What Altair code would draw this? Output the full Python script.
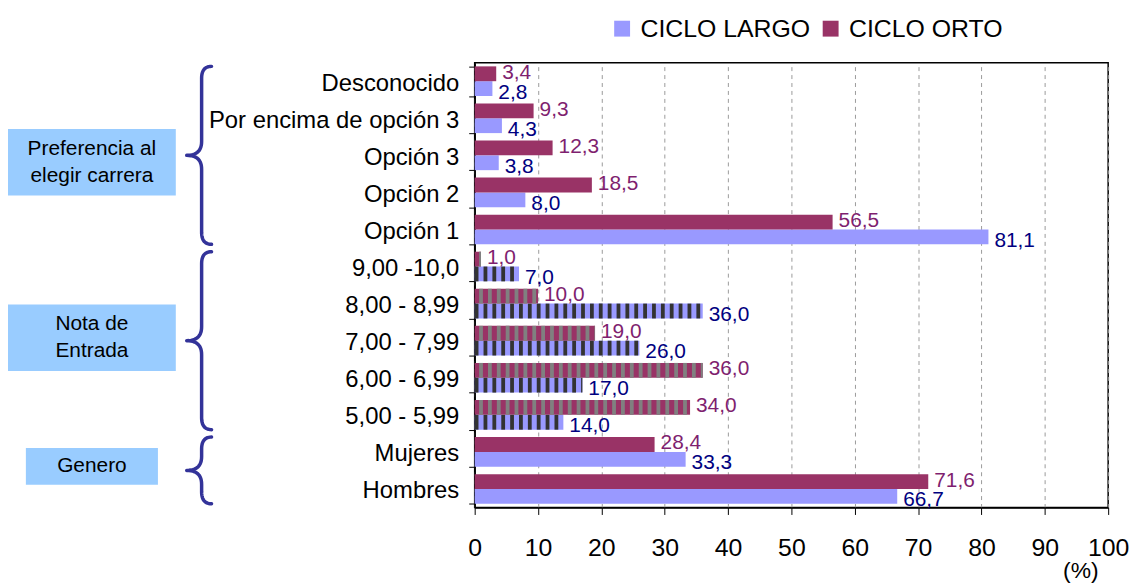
import altair as alt
import pandas as pd
import numpy as np

FONT = "Liberation Sans"

# ---------------- data ----------------
categories = ["Desconocido", "Por encima de opción 3", "Opción 3", "Opción 2", "Opción 1",
              "9,00 -10,0", "8,00 - 8,99", "7,00 - 7,99", "6,00 - 6,99", "5,00 - 5,99",
              "Mujeres", "Hombres"]
ciclo_largo = [2.8, 4.3, 3.8, 8.0, 81.1, 7.0, 36.0, 26.0, 17.0, 14.0, 33.3, 66.7]
ciclo_orto = [3.4, 9.3, 12.3, 18.5, 56.5, 1.0, 10.0, 19.0, 36.0, 34.0, 28.4, 71.6]
striped_rows = ["9,00 -10,0", "8,00 - 8,99", "7,00 - 7,99", "6,00 - 6,99", "5,00 - 5,99"]
series_names = ["CICLO LARGO", "CICLO ORTO"]
x_ticks = [0, 10, 20, 30, 40, 50, 60, 70, 80, 90, 100]

group_labels = ["Preferencia al\nelegir carrera", "Nota de\nEntrada", "Genero"]
group_first = [0, 5, 10]
group_last = [4, 9, 11]

# ---------------- layout / style constants ----------------
W, H = 638, 448
N = len(categories)
STEP = H / N
C_LARGO, C_ORTO = "#9999FF", "#993366"
LBL_LARGO, LBL_ORTO = "#000080", "#7F1F6F"
STRIPE_PERIOD, STRIPE_W = 1.4, 0.6
LINE_H = 27

rows = []
for c, vl, vo in zip(categories, ciclo_largo, ciclo_orto):
    rows.append({"category": c, "series": "CICLO LARGO", "value": vl})
    rows.append({"category": c, "series": "CICLO ORTO", "value": vo})
df = pd.DataFrame(rows)
df["label"] = df["value"].map(lambda v: f"{v:.1f}".replace(".", ","))

def stripes(series, offset):
    out = []
    sub = df[(df.series == series) & (df.category.isin(striped_rows))]
    for _, r in sub.iterrows():
        k = 0
        while True:
            x0 = offset + k * STRIPE_PERIOD
            if x0 >= r.value:
                break
            out.append({"category": r.category, "series": series,
                        "value": x0, "x1": min(x0 + STRIPE_W, r.value)})
            k += 1
    return pd.DataFrame(out)

stripes_largo = stripes("CICLO LARGO", 0.0)
stripes_orto = stripes("CICLO ORTO", 0.7)

xscale = alt.Scale(domain=[0, 100], nice=False, zero=True)
yscale = alt.Scale(domain=categories, paddingInner=0.2, paddingOuter=0.1)
yoff = alt.YOffset("series:N", scale=alt.Scale(domain=["CICLO ORTO", "CICLO LARGO"],
                                               paddingInner=0, paddingOuter=0))

xaxis = alt.Axis(values=x_ticks, grid=True, gridDash=[4, 4], gridColor="#9A9A9A", gridWidth=1,
                 domainColor="black", domainWidth=1.5, tickColor="black", tickSize=7,
                 labelFontSize=25, labelPadding=21, labelColor="black", labelFont=FONT,
                 labelFlush=False, labelOverlap=False,
                 title="(%)", titleFontSize=23, titleFontWeight="normal", titleFont=FONT,
                 titleColor="black", titleX=610, titleY=64, titleAlign="center",
                 titleBaseline="middle")
yaxis = alt.Axis(title=None, tickBand="extent", tickSize=6, tickColor="black",
                 domainColor="black", domainWidth=1.5, labelFontSize=24, labelPadding=10,
                 labelLimit=400, labelColor="black", labelFont=FONT, grid=False, labelOffset=2)

X = alt.X("value:Q", scale=xscale, axis=xaxis, title="(%)")
Y = alt.Y("category:N", scale=yscale, axis=yaxis, sort=categories, title=None)

base = alt.Chart(df)
bars = base.mark_bar().encode(
    x=X, y=Y, yOffset=yoff,
    color=alt.Color("series:N", scale=alt.Scale(domain=series_names, range=[C_LARGO, C_ORTO]),
                    legend=alt.Legend(title=None, orient="none", legendX=136, legendY=-47,
                                      direction="horizontal", columns=2, symbolType="square",
                                      symbolSize=256, labelFontSize=25, labelFont=FONT,
                                      labelColor="black", labelLimit=400, columnPadding=8,
                                      labelOffset=6, symbolStrokeWidth=0, symbolOpacity=1,
                                      padding=0)),
)

def stripe_layer(sdf, color):
    return alt.Chart(sdf).mark_bar(color=color).encode(x=X, x2="x1:Q", y=Y, yOffset=yoff)

st_l = stripe_layer(stripes_largo, "#333333")
st_o = stripe_layer(stripes_orto, "#808080")

def label_layer(series, color, dy):
    return base.transform_filter(alt.datum.series == series).mark_text(
        align="left", baseline="middle", dx=6, dy=dy, fontSize=21, font=FONT, color=color
    ).encode(x=X, y=Y, yOffset=yoff, text="label:N")

lab_o = label_layer("CICLO ORTO", LBL_ORTO, -1)
lab_l = label_layer("CICLO LARGO", LBL_LARGO, 4)

main = alt.layer(bars, st_l, st_o, lab_o, lab_l)

# ---------------- left annotations (braces + boxes) ----------------
BOX_X = [(-470, -301), (-470, -301), (-452, -319)]
BOX_H = [67, 67, 37]
BOX_SHIFT = [7, -3, -4]
TIP_X, STEM_X, END_X = -290, -275, -265
R_END, R_TIP = 12, 14
INSET = 0.1

box_rows = []
for lab, f, l, (x0, x1), bh, sh in zip(group_labels, group_first, group_last, BOX_X, BOX_H, BOX_SHIFT):
    yc = (f + l + 1) / 2 + sh / STEP
    nlines = lab.count("\n") + 1
    box_rows.append({"label": lab, "x0": x0, "x1": x1, "xc": (x0 + x1) / 2,
                     "y0": yc - bh / 2 / STEP, "y1": yc + bh / 2 / STEP,
                     "yt": yc - (nlines - 1) * LINE_H / 2 / STEP})
boxes_df = pd.DataFrame(box_rows)

def qbez(p0, p1, p2, n=14):
    t = np.linspace(0, 1, n)
    xs = (1 - t) ** 2 * p0[0] + 2 * (1 - t) * t * p1[0] + t ** 2 * p2[0]
    ys = (1 - t) ** 2 * p0[1] + 2 * (1 - t) * t * p1[1] + t ** 2 * p2[1]
    return list(zip(xs, ys))

brace_rows = []
for gi, (f, l) in enumerate(zip(group_first, group_last)):
    y0 = (f + INSET) * STEP
    y1 = (l + 1 - INSET) * STEP
    ym = (y0 + y1) / 2
    pts = []
    pts += qbez((END_X, y0), (STEM_X, y0), (STEM_X, y0 + R_END))
    pts += qbez((STEM_X, ym - R_TIP), (STEM_X, ym), (TIP_X, ym))
    pts += qbez((TIP_X, ym), (STEM_X, ym), (STEM_X, ym + R_TIP))
    pts += qbez((STEM_X, y1 - R_END), (STEM_X, y1), (END_X, y1))
    for i, (px, py) in enumerate(pts):
        brace_rows.append({"brace": gi, "i": i, "bx": px, "by": py / STEP})
braces_df = pd.DataFrame(brace_rows)

ax_scale = alt.Scale(domain=[-476, 0], range=[-476, 0], nice=False, zero=False)
ay_scale = alt.Scale(domain=[0, N], range=[0, H], nice=False, zero=False)

box_marks = alt.Chart(boxes_df).mark_rect(color="#99CCFF").encode(
    x=alt.X("x0:Q", scale=ax_scale, axis=None), x2="x1:Q",
    y=alt.Y("y0:Q", scale=ay_scale, axis=None), y2="y1:Q")
box_text = alt.Chart(boxes_df).mark_text(
    align="center", baseline="middle", lineBreak="\n", lineHeight=LINE_H, fontSize=21,
    font=FONT, color="black").encode(
    x=alt.X("xc:Q", scale=ax_scale, axis=None),
    y=alt.Y("yt:Q", scale=ay_scale, axis=None),
    text="label:N")
brace_marks = alt.Chart(braces_df).mark_line(color="#333399", strokeWidth=3.5,
                                             strokeCap="round", strokeJoin="round").encode(
    x=alt.X("bx:Q", scale=ax_scale, axis=None),
    y=alt.Y("by:Q", scale=ay_scale, axis=None),
    detail="brace:N",
    order="i:Q")

ann = alt.layer(box_marks, box_text, brace_marks)

chart = alt.layer(main, ann).resolve_scale(x="independent", y="independent").properties(
    width=W, height=H,
    autosize=alt.AutoSizeParams(type="none"),
    padding={"left": 470, "top": 53, "right": 23, "bottom": 76},
).configure(font=FONT).configure_view(stroke="black", strokeWidth=1.5)

chart.save("out.html", embed_options={"renderer": "svg", "actions": False})
